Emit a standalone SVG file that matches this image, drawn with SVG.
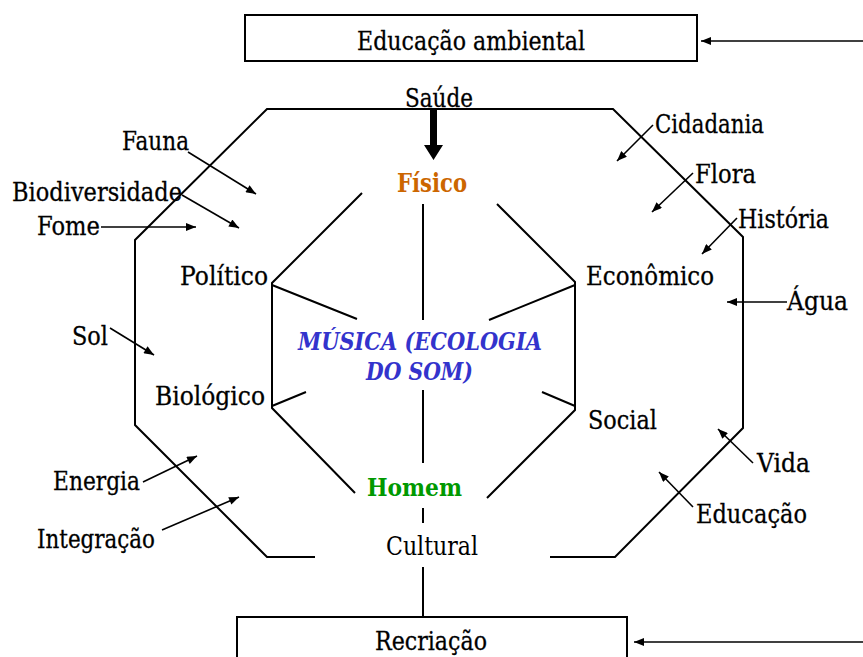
<svg xmlns="http://www.w3.org/2000/svg" width="863" height="657" viewBox="0 0 863 657">
<defs>
<style>
.ln{fill:none;stroke:#000;stroke-width:2}
.ar{fill:none;stroke:#000;stroke-width:1.6;marker-end:url(#ah)}
.box{fill:#fff;stroke:#000;stroke-width:2}
.r{font-family:'DejaVu Serif','Liberation Serif',serif;font-size:26px;fill:#000;stroke:#000;stroke-width:0.3}
.bd{font-family:'DejaVu Serif','Liberation Serif',serif;font-weight:bold}
</style>
<marker id="ah" viewBox="0 0 10 8" refX="10" refY="4" markerWidth="11" markerHeight="8" markerUnits="userSpaceOnUse" orient="auto">
<path d="M0,0 L10,4 L0,8 Z" fill="#000"/>
</marker>
</defs>
<rect width="863" height="657" fill="#fff"/>

<g id="connectors">
<path class="ln" d="M315,557 H267 L135,425 V240 L267,109 H613 L743,237 V428 L615,557 H550"/>
<path class="ln" d="M362,193 L272,283 V408 L355,493"/>
<path class="ln" d="M497,204 L575,282 V410 L487,498"/>
<path class="ln" d="M272,285 L357,319 M575,285 L489,320 M272,406 L306,392 M542,392 L575,406"/>
<path class="ln" d="M423,204 V320 M423,390 V463 M423,508 V523 M423,567 V617"/>
<path d="M430,110 H437 V145 H443 L433.5,160 L424,145 H430 Z" fill="#000"/>
<line class="ar" x1="863" y1="41" x2="701" y2="41"/>
<line class="ar" x1="863" y1="642" x2="634" y2="642"/>
<line class="ar" x1="188" y1="152" x2="256" y2="194"/>
<line class="ar" x1="182" y1="195" x2="239" y2="228"/>
<line class="ar" x1="101" y1="227" x2="196" y2="227"/>
<line class="ar" x1="110" y1="328" x2="154" y2="355"/>
<line class="ar" x1="143" y1="482" x2="197" y2="456"/>
<line class="ar" x1="162" y1="530" x2="239" y2="497"/>
<line class="ar" x1="653" y1="125" x2="617" y2="161"/>
<line class="ar" x1="693" y1="173" x2="652" y2="212"/>
<line class="ar" x1="737" y1="218" x2="702" y2="254"/>
<line class="ar" x1="787" y1="302" x2="727" y2="302"/>
<line class="ar" x1="753" y1="463" x2="718" y2="429"/>
<line class="ar" x1="693" y1="507" x2="659" y2="472"/>
</g>

<g id="educacao-ambiental">
<rect class="box" x="245" y="15" width="452" height="46"/>
<text class="r" x="357" y="50" textLength="228" lengthAdjust="spacingAndGlyphs">Educação ambiental</text>
</g>
<g id="recriacao">
<rect class="box" x="237" y="617" width="390" height="60"/>
<text class="r" x="375" y="650" textLength="112" lengthAdjust="spacingAndGlyphs">Recriação</text>
</g>
<g id="saude"><text class="r" x="405" y="107" textLength="68" lengthAdjust="spacingAndGlyphs">Saúde</text></g>
<g id="fisico"><text class="bd" font-size="26" fill="#CC6600" x="397" y="192" textLength="70" lengthAdjust="spacingAndGlyphs">Físico</text></g>
<g id="musica" class="bd" font-style="italic" font-size="25" fill="#3333CC">
<text x="298" y="350" textLength="244" lengthAdjust="spacingAndGlyphs">MÚSICA (ECOLOGIA</text>
<text x="366" y="380" textLength="107" lengthAdjust="spacingAndGlyphs">DO SOM)</text>
</g>
<g id="homem"><text class="bd" font-size="25" fill="#009900" x="367" y="496" textLength="95" lengthAdjust="spacingAndGlyphs">Homem</text></g>
<g id="cultural"><text class="r" style="stroke-width:0" x="386" y="555" textLength="92" lengthAdjust="spacingAndGlyphs">Cultural</text></g>
<g id="politico"><text class="r" x="180" y="285" textLength="88" lengthAdjust="spacingAndGlyphs">Político</text></g>
<g id="economico"><text class="r" x="586" y="285" textLength="128" lengthAdjust="spacingAndGlyphs">Econômico</text></g>
<g id="biologico"><text class="r" x="155" y="405" textLength="110" lengthAdjust="spacingAndGlyphs">Biológico</text></g>
<g id="social"><text class="r" x="588" y="429" textLength="69" lengthAdjust="spacingAndGlyphs">Social</text></g>
<g id="fauna"><text class="r" x="122" y="150" textLength="67" lengthAdjust="spacingAndGlyphs">Fauna</text></g>
<g id="biodiversidade"><text class="r" x="12" y="201" textLength="170" lengthAdjust="spacingAndGlyphs">Biodiversidade</text></g>
<g id="fome"><text class="r" x="37" y="235" textLength="63" lengthAdjust="spacingAndGlyphs">Fome</text></g>
<g id="sol"><text class="r" x="72" y="345" textLength="36" lengthAdjust="spacingAndGlyphs">Sol</text></g>
<g id="energia"><text class="r" x="53" y="490" textLength="87" lengthAdjust="spacingAndGlyphs">Energia</text></g>
<g id="integracao"><text class="r" x="37" y="548" textLength="118" lengthAdjust="spacingAndGlyphs">Integração</text></g>
<g id="cidadania"><text class="r" x="655" y="133" textLength="109" lengthAdjust="spacingAndGlyphs">Cidadania</text></g>
<g id="flora"><text class="r" x="695" y="183" textLength="61" lengthAdjust="spacingAndGlyphs">Flora</text></g>
<g id="historia"><text class="r" x="738" y="228" textLength="91" lengthAdjust="spacingAndGlyphs">História</text></g>
<g id="agua"><text class="r" x="787" y="310" textLength="61" lengthAdjust="spacingAndGlyphs">Água</text></g>
<g id="vida"><text class="r" x="757" y="472" textLength="53" lengthAdjust="spacingAndGlyphs">Vida</text></g>
<g id="educacao"><text class="r" x="696" y="523" textLength="111" lengthAdjust="spacingAndGlyphs">Educação</text></g>
</svg>
